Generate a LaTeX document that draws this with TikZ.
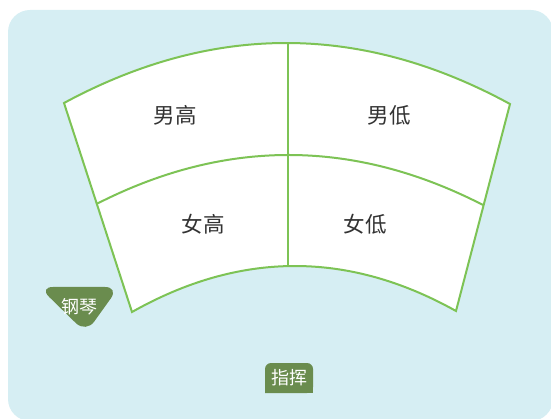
\documentclass[tikz,border=0pt]{standalone}
\usepackage{fontspec}
\newfontfamily\cjk{Noto Sans CJK SC}
\definecolor{bgblue}{RGB}{214,238,243}
\definecolor{linegreen}{RGB}{125,195,85}
\definecolor{tagGreen}{RGB}{106,140,78}
\definecolor{txtgray}{RGB}{51,51,51}
\tikzset{
  partlabel/.style={font=\cjk\fontsize{21.5}{25}\selectfont, text=txtgray, inner sep=0pt},
  taglabel/.style={font=\cjk\fontsize{18}{21}\selectfont, text=white, inner sep=0pt},
  fanline/.style={draw=linegreen, line width=2pt, line join=miter}
}
\begin{document}
\begin{tikzpicture}[x=1pt,y=-1pt]
\useasboundingbox (0,0) rectangle (551,419);
\fill[bgblue, rounded corners=22pt] (8,10) rectangle (553,421);
% fan
\coordinate (OL) at (64,103);
\coordinate (OR) at (510,104);
\coordinate (IL) at (132,312);
\coordinate (IR) at (456,311);
\coordinate (ML) at (96.5,204);
\coordinate (MR) at (483,205);
\coordinate (T) at (288,43);
\coordinate (B) at (288,266.5);
\fill[white] (OL) .. controls (212.7,22.7) and (361.3,23) .. (OR) -- (IR)
  .. controls (348,250.7) and (240,251) .. (IL) -- cycle;
\draw[fanline] (OL) .. controls (212.7,22.7) and (361.3,23) .. (OR) -- (IR)
  .. controls (348,250.7) and (240,251) .. (IL) -- cycle;
\draw[fanline] (ML) .. controls (225,138.3) and (354,138.7) .. (MR);
\draw[fanline] (T) -- (B);
% labels
\node[partlabel] (mh) at (175,115) {男高};
\node[partlabel] (ml) at (389,115) {男低};
\node[partlabel] (fh) at (203,224) {女高};
\node[partlabel] (fl) at (365,224) {女低};
% piano tag
\fill[tagGreen, rounded corners=14pt] (39,287) -- (119,287) -- (86,333) -- cycle;
\node[taglabel] (piano) at (79,307) {钢琴};
% conductor tag
\fill[tagGreen, rounded corners=6pt] (265,393) -- (265,363) -- (313,363) -- (313,393) [sharp corners] -- cycle;
\fill[tagGreen] (265,385) rectangle (313,393);
\node[taglabel] (cond) at (289,378) {指挥};
\end{tikzpicture}
\end{document}
